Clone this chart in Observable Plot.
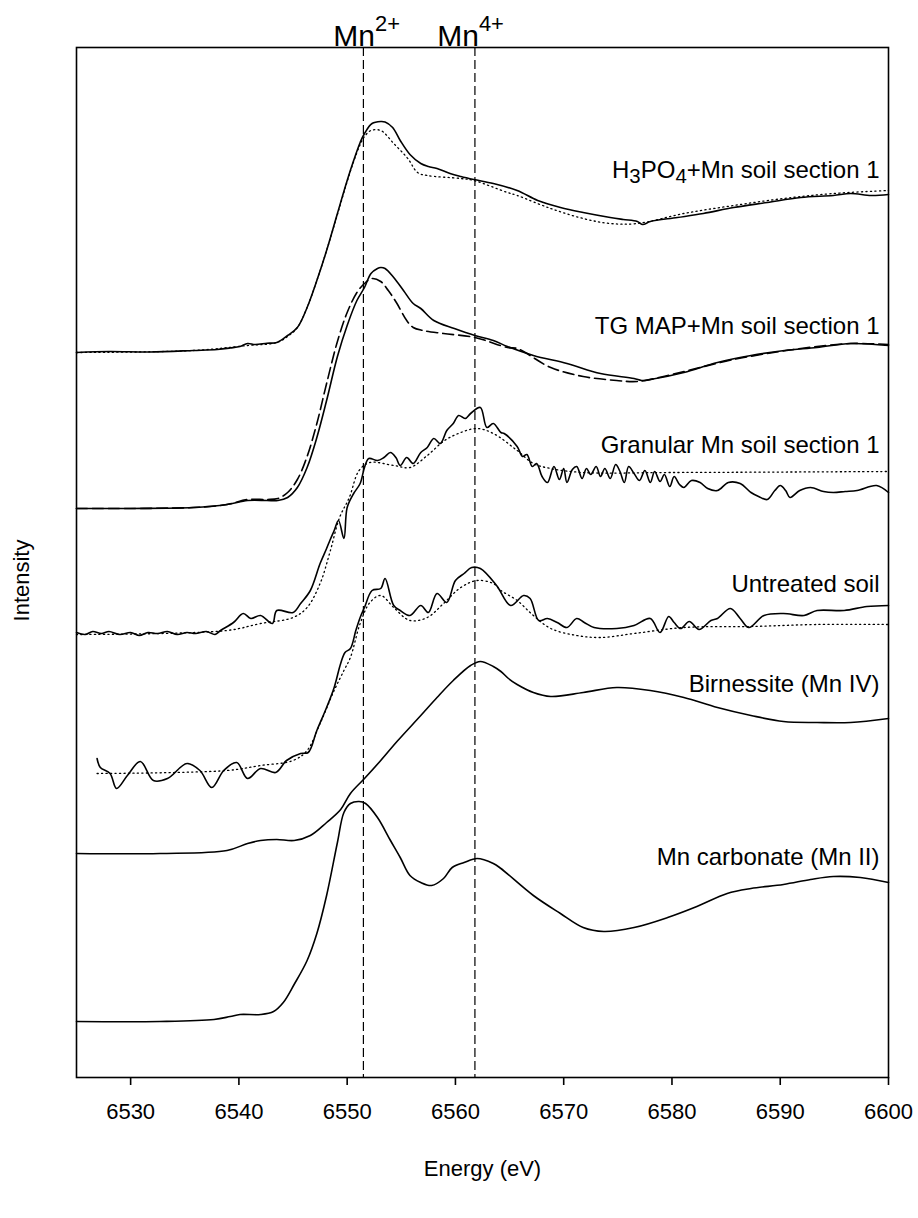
<!DOCTYPE html>
<html>
<head>
<meta charset="utf-8">
<script src="https://cdn.jsdelivr.net/npm/d3@7"></script>
<script src="https://cdn.jsdelivr.net/npm/@observablehq/plot@0.6"></script>
<style>
  html, body { margin: 0; padding: 0; background: #fff; }
  svg { font-family: "Liberation Sans", Arial, sans-serif; }
</style>
</head>
<body>
<div id="chart"></div>
<script>
// ---------- DATA (energy in eV, stacked intensity in arbitrary units) ----------
const xTicks = [6530, 6540, 6550, 6560, 6570, 6580, 6590, 6600];
const refLineE = [6551.5, 6561.8];
const refLabelE = [6551.8, 6561.4];
const refLabels = ["Mn^{2+}", "Mn^{4+}"];

const h3po4E = [6525.0, 6528.0, 6531.8, 6535.8, 6538.0, 6539.2, 6540.1, 6540.8, 6541.5, 6542.6, 6543.5, 6544.5, 6545.4, 6546.3, 6547.2, 6548.1, 6549.1, 6550.0, 6550.6, 6551.2, 6551.6, 6552.3, 6553.1, 6553.5, 6554.2, 6554.9, 6555.8, 6556.8, 6557.5, 6558.3, 6559.5, 6560.5, 6561.7, 6563.5, 6565.7, 6567.6, 6569.7, 6571.8, 6574.3, 6575.5, 6576.8, 6577.3, 6578.0, 6580.5, 6582.9, 6585.7, 6588.8, 6591.9, 6594.9, 6596.5, 6598.4, 6600.0];
const h3po4I = [7.74, 7.75, 7.745, 7.76, 7.77, 7.785, 7.80, 7.83, 7.82, 7.833, 7.84, 7.91, 7.99, 8.19, 8.46, 8.76, 9.13, 9.46, 9.66, 9.84, 9.93, 10.03, 10.05, 10.045, 9.99, 9.86, 9.72, 9.63, 9.60, 9.58, 9.53, 9.50, 9.47, 9.43, 9.36, 9.26, 9.19, 9.14, 9.09, 9.07, 9.05, 9.02, 9.05, 9.09, 9.13, 9.19, 9.24, 9.29, 9.31, 9.33, 9.31, 9.32];
const h3po4FitE = [6525.0, 6535.8, 6540.8, 6543.5, 6544.5, 6545.4, 6546.3, 6547.2, 6548.1, 6549.1, 6550.0, 6550.6, 6551.2, 6551.6, 6552.2, 6553.1, 6554.3, 6555.6, 6556.5, 6557.4, 6560.5, 6561.7, 6564.8, 6565.7, 6568.8, 6571.8, 6574.3, 6576.8, 6581.1, 6585.7, 6590.3, 6594.9, 6600.0];
const h3po4FitI = [7.74, 7.76, 7.81, 7.84, 7.90, 7.99, 8.19, 8.46, 8.76, 9.12, 9.45, 9.65, 9.82, 9.90, 9.96, 9.96, 9.83, 9.68, 9.54, 9.51, 9.48, 9.46, 9.34, 9.31, 9.18, 9.08, 9.03, 9.03, 9.13, 9.21, 9.28, 9.33, 9.36];

const tgE = [6525.0, 6530.0, 6535.8, 6538.9, 6540.8, 6542.6, 6543.6, 6544.5, 6545.4, 6546.3, 6547.2, 6548.1, 6549.1, 6550.0, 6550.9, 6551.6, 6552.2, 6552.8, 6553.1, 6553.5, 6554.3, 6555.2, 6556.1, 6556.8, 6558.0, 6559.9, 6561.8, 6563.5, 6564.8, 6567.2, 6570.3, 6573.4, 6576.5, 6577.2, 6578.0, 6581.1, 6584.2, 6587.3, 6590.4, 6593.4, 6596.5, 6600.0];
const tgI = [6.18, 6.18, 6.19, 6.22, 6.26, 6.26, 6.26, 6.29, 6.39, 6.59, 6.89, 7.26, 7.70, 8.01, 8.26, 8.39, 8.53, 8.58, 8.59, 8.58, 8.49, 8.36, 8.23, 8.18, 8.06, 7.98, 7.91, 7.86, 7.80, 7.71, 7.63, 7.53, 7.48, 7.46, 7.47, 7.54, 7.64, 7.71, 7.76, 7.79, 7.83, 7.81];
const tgFitE = [6525.0, 6535.8, 6538.9, 6540.8, 6542.6, 6543.6, 6544.5, 6545.4, 6546.3, 6547.2, 6548.1, 6549.1, 6550.0, 6550.9, 6551.6, 6552.3, 6553.1, 6553.8, 6554.6, 6555.5, 6556.1, 6557.0, 6558.9, 6561.8, 6564.8, 6565.7, 6568.8, 6571.8, 6574.9, 6576.8, 6579.6, 6582.6, 6585.7, 6588.8, 6591.9, 6596.5, 6600.0];
const tgFitI = [6.18, 6.19, 6.22, 6.27, 6.27, 6.28, 6.34, 6.47, 6.70, 7.03, 7.43, 7.85, 8.14, 8.34, 8.43, 8.48, 8.45, 8.36, 8.23, 8.06, 7.99, 7.96, 7.93, 7.89, 7.79, 7.78, 7.59, 7.50, 7.46, 7.45, 7.51, 7.59, 7.67, 7.73, 7.78, 7.83, 7.82];

const granE = [6525.0, 6525.8, 6526.5, 6527.3, 6528.0, 6529.0, 6530.0, 6530.8, 6531.6, 6532.5, 6533.4, 6534.3, 6535.2, 6536.0, 6537.0, 6537.8, 6538.3, 6539.5, 6540.4, 6541.1, 6542.0, 6543.1, 6543.5, 6545.0, 6545.7, 6546.6, 6547.5, 6548.1, 6548.4, 6548.8, 6549.2, 6549.7, 6550.0, 6550.6, 6551.2, 6551.6, 6552.0, 6552.8, 6553.4, 6554.0, 6554.5, 6554.9, 6555.5, 6556.1, 6556.8, 6557.4, 6558.0, 6558.6, 6559.2, 6559.8, 6560.3, 6560.9, 6561.4, 6562.3, 6562.9, 6563.5, 6564.2, 6564.5, 6565.7, 6566.2, 6566.6, 6567.1, 6567.5, 6568.0, 6568.5, 6569.1, 6569.6, 6570.0, 6570.3, 6570.8, 6571.2, 6571.7, 6572.1, 6572.5, 6573.0, 6573.4, 6573.8, 6574.3, 6574.8, 6575.2, 6575.6, 6576.0, 6576.5, 6577.0, 6577.5, 6578.0, 6578.4, 6578.9, 6579.3, 6579.8, 6580.2, 6580.7, 6581.1, 6581.8, 6582.6, 6583.3, 6584.2, 6585.2, 6586.3, 6587.3, 6588.0, 6588.8, 6589.5, 6590.0, 6590.5, 6590.9, 6591.8, 6592.8, 6594.0, 6594.9, 6596.0, 6597.1, 6598.9, 6600.0];
const granI = [4.94, 4.92, 4.95, 4.93, 4.95, 4.92, 4.94, 4.91, 4.94, 4.93, 4.95, 4.92, 4.94, 4.93, 4.95, 4.92, 4.96, 5.04, 5.13, 5.08, 5.11, 5.03, 5.16, 5.14, 5.23, 5.36, 5.63, 5.78, 5.86, 5.96, 6.06, 5.88, 6.19, 6.33, 6.43, 6.59, 6.68, 6.66, 6.69, 6.74, 6.69, 6.61, 6.69, 6.63, 6.74, 6.79, 6.88, 6.83, 6.96, 7.03, 7.11, 7.08, 7.13, 7.19, 6.99, 7.03, 6.94, 6.93, 6.80, 6.70, 6.72, 6.60, 6.63, 6.50, 6.44, 6.60, 6.47, 6.58, 6.44, 6.57, 6.60, 6.48, 6.58, 6.52, 6.60, 6.50, 6.58, 6.48, 6.62, 6.55, 6.44, 6.60, 6.53, 6.46, 6.56, 6.44, 6.55, 6.45, 6.52, 6.40, 6.50, 6.42, 6.39, 6.46, 6.44, 6.38, 6.36, 6.44, 6.43, 6.34, 6.30, 6.27, 6.36, 6.41, 6.36, 6.29, 6.36, 6.39, 6.35, 6.34, 6.35, 6.36, 6.41, 6.34];
const granFitE = [6525.0, 6538.9, 6542.0, 6545.0, 6546.3, 6547.5, 6548.4, 6549.3, 6550.2, 6551.1, 6552.1, 6554.3, 6555.8, 6557.4, 6559.0, 6560.5, 6562.0, 6563.5, 6565.7, 6567.2, 6568.8, 6571.8, 6580.0, 6600.0];
const granFitI = [4.92, 4.96, 5.03, 5.09, 5.19, 5.43, 5.74, 6.09, 6.29, 6.56, 6.64, 6.61, 6.59, 6.71, 6.86, 6.94, 6.98, 6.93, 6.76, 6.63, 6.58, 6.54, 6.54, 6.55];

const untrE = [6526.9, 6527.2, 6528.1, 6528.7, 6529.7, 6530.9, 6532.1, 6533.4, 6535.2, 6536.4, 6537.5, 6538.6, 6539.8, 6540.8, 6542.0, 6543.4, 6544.4, 6545.7, 6546.4, 6547.2, 6548.1, 6548.8, 6549.4, 6549.8, 6550.3, 6550.8, 6551.2, 6551.6, 6552.3, 6553.1, 6553.5, 6554.3, 6554.9, 6555.8, 6556.8, 6557.5, 6558.3, 6559.2, 6560.0, 6560.8, 6561.5, 6562.3, 6563.8, 6565.1, 6566.3, 6566.9, 6567.7, 6568.5, 6569.4, 6570.3, 6571.2, 6571.9, 6572.8, 6574.9, 6576.5, 6578.0, 6578.9, 6579.7, 6580.2, 6580.8, 6581.6, 6582.5, 6583.6, 6584.2, 6585.4, 6586.3, 6587.1, 6588.5, 6590.3, 6592.2, 6593.4, 6595.9, 6598.0, 6600.0];
const untrI = [3.68, 3.59, 3.53, 3.38, 3.51, 3.65, 3.46, 3.48, 3.63, 3.56, 3.39, 3.56, 3.64, 3.48, 3.58, 3.54, 3.66, 3.73, 3.74, 3.96, 4.19, 4.39, 4.63, 4.74, 4.78, 4.96, 5.09, 5.19, 5.36, 5.38, 5.48, 5.21, 5.16, 5.11, 5.21, 5.14, 5.33, 5.24, 5.46, 5.53, 5.59, 5.58, 5.41, 5.21, 5.31, 5.28, 5.06, 5.08, 5.04, 4.99, 5.08, 5.04, 4.99, 4.98, 5.01, 5.08, 4.94, 5.10, 5.04, 4.98, 5.05, 4.97, 5.06, 5.08, 5.18, 5.08, 4.99, 5.11, 5.13, 5.11, 5.16, 5.16, 5.20, 5.21];
const untrFitE = [6526.9, 6538.9, 6542.0, 6545.0, 6546.3, 6547.5, 6548.8, 6549.7, 6550.3, 6551.2, 6552.1, 6553.1, 6554.3, 6555.8, 6557.4, 6558.9, 6560.5, 6562.0, 6563.5, 6564.2, 6565.7, 6567.2, 6568.8, 6571.2, 6573.4, 6576.5, 6581.1, 6587.3, 6593.4, 6600.0];
const untrFitI = [3.53, 3.56, 3.61, 3.66, 3.76, 4.03, 4.36, 4.56, 4.69, 5.03, 5.24, 5.31, 5.19, 5.06, 5.09, 5.23, 5.39, 5.46, 5.43, 5.36, 5.26, 5.11, 4.98, 4.91, 4.89, 4.93, 4.99, 5.00, 5.02, 5.02];

const birnE = [6525.0, 6532.7, 6538.9, 6540.8, 6542.0, 6543.5, 6545.1, 6546.6, 6548.1, 6549.4, 6550.3, 6551.6, 6553.1, 6554.6, 6556.8, 6558.3, 6559.8, 6561.4, 6562.3, 6563.5, 6564.2, 6564.9, 6565.7, 6567.2, 6568.8, 6571.8, 6574.9, 6578.0, 6581.1, 6584.2, 6587.3, 6590.3, 6593.4, 6596.5, 6600.0];
const birnI = [2.73, 2.73, 2.76, 2.83, 2.86, 2.87, 2.86, 2.91, 3.04, 3.17, 3.33, 3.48, 3.66, 3.85, 4.11, 4.29, 4.46, 4.61, 4.65, 4.60, 4.55, 4.48, 4.42, 4.34, 4.30, 4.34, 4.39, 4.36, 4.29, 4.19, 4.11, 4.05, 4.04, 4.04, 4.08];

const carbE = [6525.0, 6532.7, 6537.7, 6539.2, 6540.1, 6542.0, 6543.2, 6544.1, 6545.1, 6546.3, 6547.2, 6548.1, 6549.1, 6549.7, 6550.3, 6551.1, 6551.7, 6552.8, 6554.0, 6554.9, 6555.8, 6556.8, 6557.8, 6558.9, 6559.7, 6560.8, 6562.0, 6563.5, 6564.2, 6567.2, 6569.7, 6571.8, 6573.7, 6576.5, 6579.6, 6582.3, 6585.1, 6587.3, 6590.3, 6592.8, 6594.9, 6597.4, 6600.0];
const carbI = [1.05, 1.05, 1.07, 1.10, 1.12, 1.12, 1.15, 1.24, 1.42, 1.66, 1.93, 2.31, 2.84, 3.14, 3.23, 3.25, 3.23, 3.09, 2.86, 2.69, 2.51, 2.44, 2.41, 2.48, 2.59, 2.64, 2.68, 2.63, 2.58, 2.31, 2.13, 1.99, 1.95, 1.99, 2.09, 2.20, 2.33, 2.38, 2.42, 2.47, 2.50, 2.49, 2.44];

const seriesLabels = ["H_{3}PO_{4}+Mn soil section 1", "TG MAP+Mn soil section 1", "Granular Mn soil section 1", "Untreated soil", "Birnessite (Mn IV)", "Mn carbonate (Mn II)"];
const seriesLabelI = [9.56, 8.00, 6.81, 5.42, 4.42, 2.69];

// ---------- BUILD ----------
const rows = (E, I) => E.map((e, i) => ({E: e, I: I[i]}));
const solidSets = [rows(h3po4E, h3po4I), rows(tgE, tgI), rows(granE, granI), rows(untrE, untrI), rows(birnE, birnI), rows(carbE, carbI)];
const dottedSets = [rows(h3po4FitE, h3po4FitI), rows(granFitE, granFitI), rows(untrFitE, untrFitI)];
const dashedSets = [rows(tgFitE, tgFitI)];

const font = "Liberation Sans, Arial, sans-serif";
const marks = [];
marks.push(Plot.ruleX(refLineE, {stroke: "black", strokeWidth: 1.2, strokeDasharray: "9,4"}));
for (const d of dottedSets) marks.push(Plot.line(d, {x: "E", y: "I", stroke: "black", strokeWidth: 1.3, strokeDasharray: "1.2,3.3", curve: "catmull-rom"}));
for (const d of dashedSets) marks.push(Plot.line(d, {x: "E", y: "I", stroke: "black", strokeWidth: 1.6, strokeDasharray: "11,5", curve: "catmull-rom"}));
for (const d of solidSets) marks.push(Plot.line(d, {x: "E", y: "I", stroke: "black", strokeWidth: 1.6, curve: "catmull-rom"}));
marks.push(Plot.text(seriesLabels, {x: () => 6600, y: (d, i) => seriesLabelI[i], text: d => d, textAnchor: "end", dx: -9, fontSize: 24, fill: "black"}));
marks.push(Plot.text(refLabels, {x: (d, i) => refLabelE[i], text: d => d, frameAnchor: "top", lineAnchor: "bottom", textAnchor: "middle", dy: -2, fontSize: 30, fill: "black"}));
marks.push(Plot.text(["Intensity"], {frameAnchor: "left", textAnchor: "middle", rotate: -90, dx: -55, dy: 18, fontSize: 22, fill: "black"}));
marks.push(Plot.text(["Energy (eV)"], {frameAnchor: "bottom", lineAnchor: "middle", dy: 91, fontSize: 22, fill: "black"}));
marks.push(Plot.axisX({ticks: xTicks, tickFormat: d => String(d), tickSize: 8, tickPadding: 18, fontSize: 22, label: null, stroke: "black", strokeWidth: 1.6}));
marks.push(Plot.frame({stroke: "black", strokeWidth: 1.6}));

const chart = Plot.plot({
  width: 918,
  height: 1218,
  marginLeft: 76,
  marginRight: 30,
  marginTop: 47,
  marginBottom: 141,
  style: {fontFamily: font, color: "black", background: "white"},
  x: {domain: [6525, 6600]},
  y: {domain: [0.49, 10.79], axis: null},
  marks
});

// rich text: _{sub} and ^{sup}
chart.querySelectorAll("text").forEach(t => {
  const s = t.textContent;
  if (!/[_^]\{/.test(s)) return;
  const parts = s.split(/([_^]\{[^}]*\})/).filter(p => p.length);
  while (t.firstChild) t.removeChild(t.firstChild);
  let shift = 0;
  for (const p of parts) {
    const ts = document.createElementNS("http://www.w3.org/2000/svg", "tspan");
    let target = 0, size = null, txt = p;
    if (p.startsWith("_{")) { target = 5; size = "0.85em"; txt = p.slice(2, -1); }
    else if (p.startsWith("^{")) { target = -15; size = "0.73em"; txt = p.slice(2, -1); }
    if (target - shift !== 0) ts.setAttribute("dy", target - shift);
    shift = target;
    if (size) ts.setAttribute("font-size", size);
    ts.textContent = txt;
    t.appendChild(ts);
  }
});

document.getElementById("chart").appendChild(chart);
</script>
</body>
</html>
